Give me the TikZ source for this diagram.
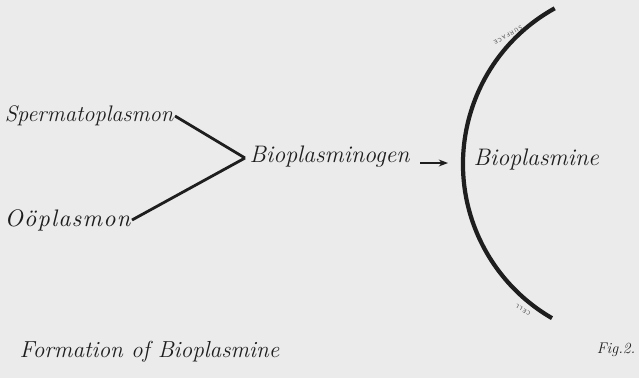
\documentclass[tikz,border=0pt]{standalone}
\usepackage{fontspec}
\usepackage{tikz}
\usetikzlibrary{arrows.meta,positioning}

\newfontfamily\handspaced{lmroman10-italic.otf}[LetterSpace=5]

\definecolor{paper}{RGB}{235,235,236}
\definecolor{ink}{RGB}{30,30,30}

\tikzset{
  hand/.style={font=\itshape\fontsize{17}{17}\selectfont, text=ink, inner sep=1pt},
  tiny label/.style={font=\sffamily\fontsize{4}{4}\selectfont, text=ink!80, inner sep=0pt},
  link/.style={ink, line width=2pt},
}

\begin{document}
\begin{tikzpicture}[x=0.025cm,y=0.025cm,>=Stealth]
\fill[paper] (0,0) rectangle (639,378);
\useasboundingbox (0,0) rectangle (639,378);

% the two plasms
\node[hand, font=\itshape\fontsize{16}{16}\selectfont, anchor=east] (sperm) at (175,262) {Spermatoplasmon};
\node[hand, font=\handspaced\fontsize{17}{17}\selectfont, anchor=east] (oo) at (132,158) {Oöplasmon};
\coordinate (apex) at (245,220);
\draw[link] (sperm.east) -- (apex);
\draw[link] (oo.east) -- (apex);

% products
\node[hand, anchor=west] (bplg) at (248,221) {Bioplasminogen};
\node[hand, anchor=west] (bpl) at (472,218) {Bioplasmine};
\coordinate (tip) at (448,215);
\draw[->, ink, line width=0.8pt] (420,215) -- (tip);

% cell surface
\draw[ink, line width=3pt] (641,214) ++(119:178) arc (119:240:178);
\node[tiny label, rotate=-150] (surf) at (508,343) {S\,U\,R\,F\,A\,C\,E};
\node[tiny label, rotate=150] (cell) at (523,68) {C\,E\,L\,L};

% caption
\node[hand, font=\itshape\fontsize{16.5}{16.5}\selectfont, anchor=west] (caption) at (18,26) {Formation of Bioplasmine};
\node[hand, font=\itshape\fontsize{11}{11}\selectfont, anchor=east] (fig) at (637,28) {Fig.2.};
\end{tikzpicture}
\end{document}
